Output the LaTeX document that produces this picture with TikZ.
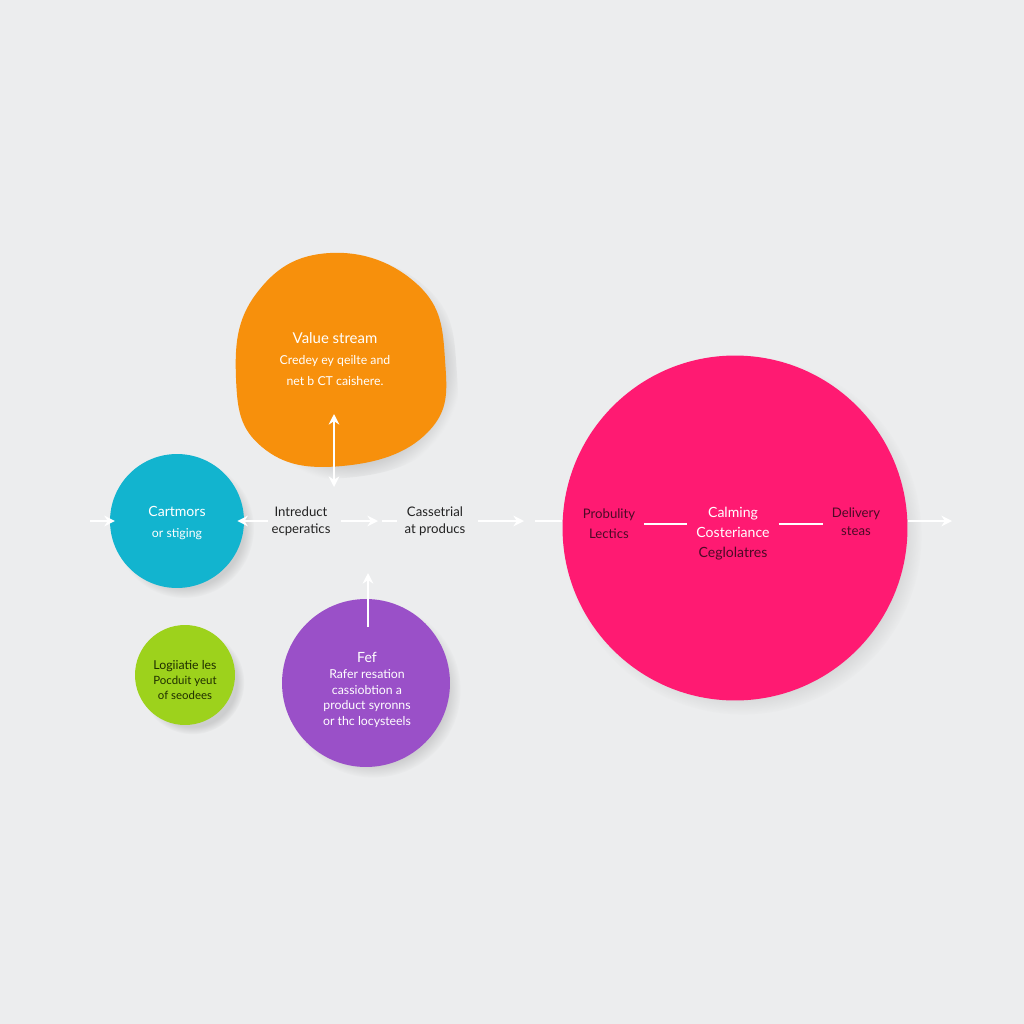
\documentclass[tikz,border=0pt]{standalone}
\usepackage{fontspec}
\setmainfont{Lato}
\usetikzlibrary{arrows.meta}
\usetikzlibrary{shadows}
\definecolor{paper}{HTML}{ECEDEE}
\definecolor{vsorange}{HTML}{F7900C}
\definecolor{custcyan}{HTML}{12B4CF}
\definecolor{logigreen}{HTML}{9DD21C}
\definecolor{fefpurple}{HTML}{9A50C8}
\definecolor{delpink}{HTML}{FF1A72}
\definecolor{inkdark}{HTML}{222222}
\definecolor{pinkdark}{HTML}{4C0A26}
\definecolor{greendark}{HTML}{1F2E00}

\begin{document}
\begin{tikzpicture}[x=0.02cm,y=-0.02cm,
  softshadow/.style = {circular drop shadow={shadow xshift=4pt, shadow yshift=-4pt, shadow scale=1.04, opacity=0.28}},
  disc/.style = {circle, inner sep=0pt, softshadow},
  textblock/.style = {align=center, inner sep=1pt},
  flow/.style = {white, line width=1.1pt, -{Stealth[length=6pt,width=6pt]}},
  link/.style = {white, line width=1.1pt}]
					\useasboundingbox (0,0) rectangle (1024,1024);
					\fill[paper] (0,0) rectangle (1024,1024);
					\fill[vsorange, softshadow]
						plot[smooth cycle, tension=0.75] coordinates {(330,253) (418,285) (445,360) (428,432) (342,466) (262,447) (236,378) (256,294)};
					\node[disc, fill=custcyan, minimum size=2.68cm] (cust) at (177,521) {};
					\node[disc, fill=logigreen, minimum size=2.0cm] (logi) at (185,675) {};
					\node[disc, fill=fefpurple, minimum size=3.36cm] (fef) at (366,683) {};
					\node[disc, fill=delpink, minimum size=6.9cm] (deliver) at (735,528) {};
					\begin{scope}[every node/.style={textblock}]
						\node[white] (vs) at (335,359) {\fontsize{8.5}{10}\selectfont Value stream\\\fontsize{7}{10.2}\selectfont Credey ey qeilte and\\\fontsize{7}{10.2}\selectfont net b CT caishere.};
						\node[white] (custtxt) at (177,523) {\fontsize{8}{11}\selectfont Cartmors\\\fontsize{7}{11}\selectfont or stiging};
						\node[inkdark, font=\fontsize{7.5}{9.7}\selectfont] (intro) at (301,521) {Intreduct\\ecperatics};
						\node[inkdark, font=\fontsize{7.5}{9.7}\selectfont] (cast) at (435,521) {Cassetrial\\at producs};
						\node[pinkdark, font=\fontsize{7.5}{11.4}\selectfont] (prob) at (609,524) {Probulity\\Lectics};
						\node[white, font=\fontsize{8}{11.4}\selectfont] (calm) at (733,534) {Calming\\Costeriance\\\textcolor{pinkdark}{Ceglolatres}};
						\node[pinkdark, font=\fontsize{7.5}{10.2}\selectfont] (deliv) at (856,522) {Delivery\\steas};
						\node[greendark, font=\fontsize{6.5}{8.8}\selectfont] (logitxt) at (185,680) {\fontsize{7}{8.8}\selectfont Logiiatie les\\Pocduit yeut\\of seodees};
						\node[white, font=\fontsize{7}{9}\selectfont] (feftxt) at (367,690) {\fontsize{8}{12}\selectfont Fef\\Rafer resation\\cassiobtion a\\product syronns\\or thc locysteels};
					\end{scope}
					\coordinate (in) at (90,521);
					\coordinate (vsup) at (334,414);
					\coordinate (vsdown) at (334,487);
					\coordinate (c1) at (378,521);
					\coordinate (c2) at (524,521);
					\coordinate (fefup) at (368,573);
					\coordinate (fefbase) at (368,627);
					\coordinate (out) at (952,521);
					\draw[flow] (in) -- ([xshift=3pt]cust.west);
					\draw[flow, shorten <=1pt] (intro.west) -- ([xshift=-4pt]cust.east);
					\draw[white, line width=1.1pt, {Stealth[length=6pt,width=6pt]}-{Stealth[length=6pt,width=6pt]}] (vsup) -- (vsdown);
					\draw[flow, shorten <=5pt] (intro.east) -- (c1);
					\draw[link, shorten <=2pt, shorten >=3pt] (c1) -- (cast.west);
					\draw[flow, shorten <=6pt] (cast.east) -- (c2);
					\draw[link, shorten <=6pt] (c2) -- (deliver.west |- c2);
					\draw[flow] (fefbase) -- (fefup);
					\draw[link, shorten <=4pt, shorten >=4pt] (prob.east) -- (calm.west |- prob.east);
					\draw[link, shorten <=4pt, shorten >=4pt] (calm.east |- prob.east) -- (deliv.west |- prob.east);
					\draw[flow] (deliver.east |- out) -- (out);
				\end{tikzpicture}
\end{document}
